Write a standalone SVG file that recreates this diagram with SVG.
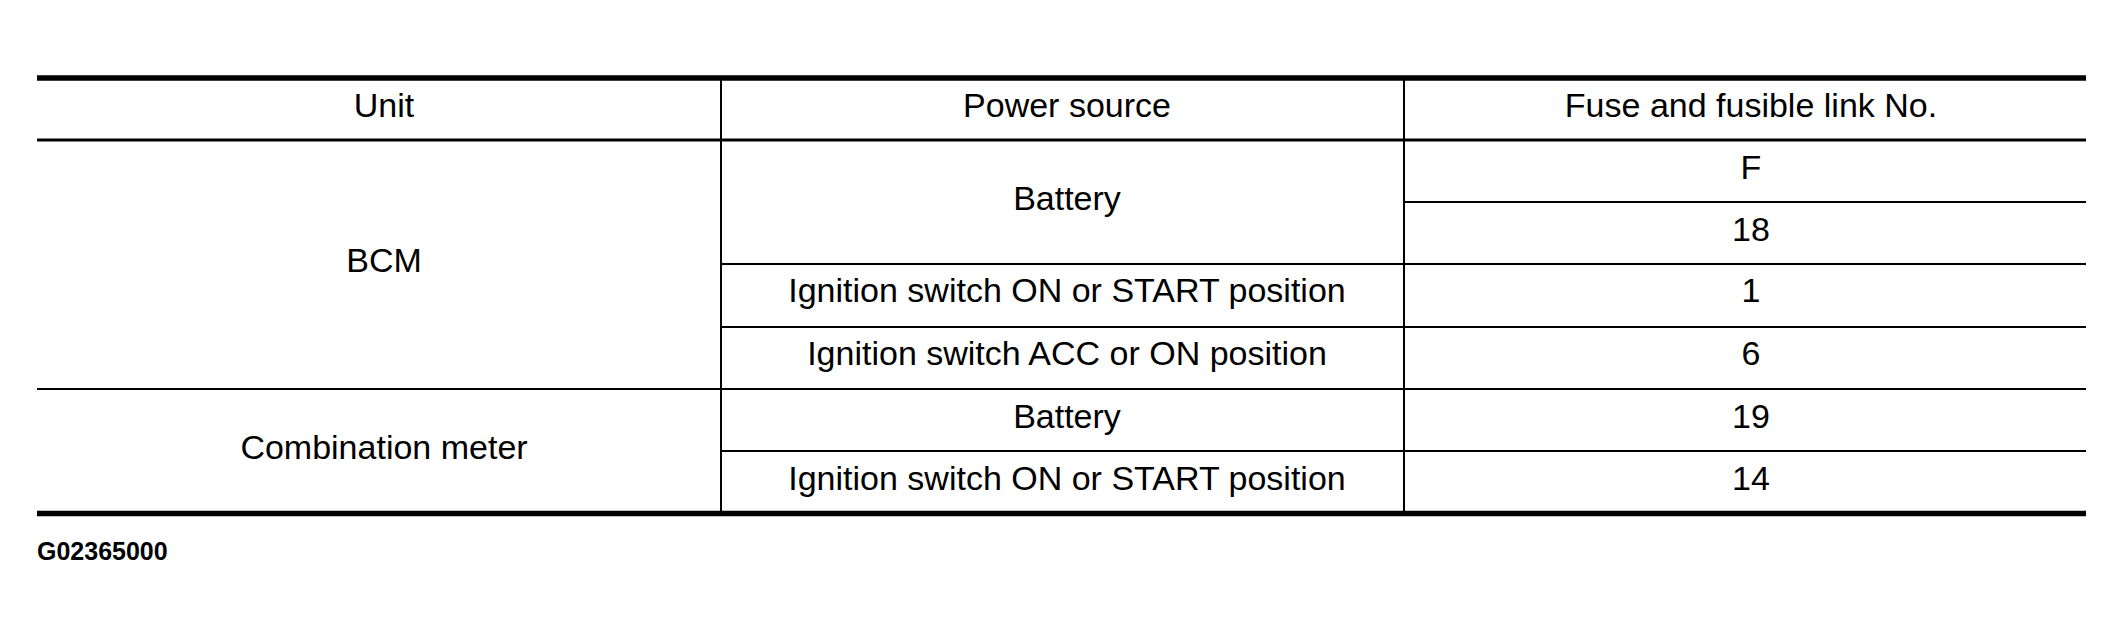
<svg xmlns="http://www.w3.org/2000/svg" width="2124" height="636" viewBox="0 0 2124 636">
<style>
.t{font-family:"Liberation Sans",Arial,sans-serif;font-size:34px;fill:#000;text-anchor:middle}
.c{font-family:"Liberation Sans",Arial,sans-serif;font-size:25px;font-weight:bold;fill:#000}
.thin{stroke:#000;stroke-width:2;fill:none}
.mid{stroke:#000;stroke-width:3;fill:none}
.thick{stroke:#000;stroke-width:5.5;fill:none}
</style>
<rect width="2124" height="636" fill="#fff"/>
<g id="grid">
<line class="thick" x1="37" y1="78" x2="2086" y2="78"/>
<line class="mid" x1="37" y1="140" x2="2086" y2="140"/>
<line class="thin" x1="1404" y1="202" x2="2086" y2="202"/>
<line class="thin" x1="721" y1="264" x2="2086" y2="264"/>
<line class="thin" x1="721" y1="327" x2="2086" y2="327"/>
<line class="thin" x1="37" y1="389" x2="2086" y2="389"/>
<line class="thin" x1="721" y1="451" x2="2086" y2="451"/>
<line class="thick" x1="37" y1="513.5" x2="2086" y2="513.5"/>
<line class="thin" x1="721" y1="80" x2="721" y2="511"/>
<line class="thin" x1="1404" y1="80" x2="1404" y2="511"/>
</g>
<g id="header">
<text class="t" x="384" y="116.5">Unit</text>
<text class="t" x="1067" y="116.5">Power source</text>
<text class="t" x="1751" y="116.5">Fuse and fusible link No.</text>
</g>
<g id="bcm">
<text class="t" x="384" y="272">BCM</text>
<text class="t" x="1067" y="210">Battery</text>
<text class="t" x="1751" y="178.5">F</text>
<text class="t" x="1751" y="240.5">18</text>
<text class="t" x="1067" y="302">Ignition switch ON or START position</text>
<text class="t" x="1751" y="302">1</text>
<text class="t" x="1067" y="365">Ignition switch ACC or ON position</text>
<text class="t" x="1751" y="365">6</text>
</g>
<g id="combination-meter">
<text class="t" x="384" y="459">Combination meter</text>
<text class="t" x="1067" y="427.5">Battery</text>
<text class="t" x="1751" y="427.5">19</text>
<text class="t" x="1067" y="489.5">Ignition switch ON or START position</text>
<text class="t" x="1751" y="489.5">14</text>
</g>
<g id="code">
<text class="c" x="37" y="560">G02365000</text>
</g>
</svg>
